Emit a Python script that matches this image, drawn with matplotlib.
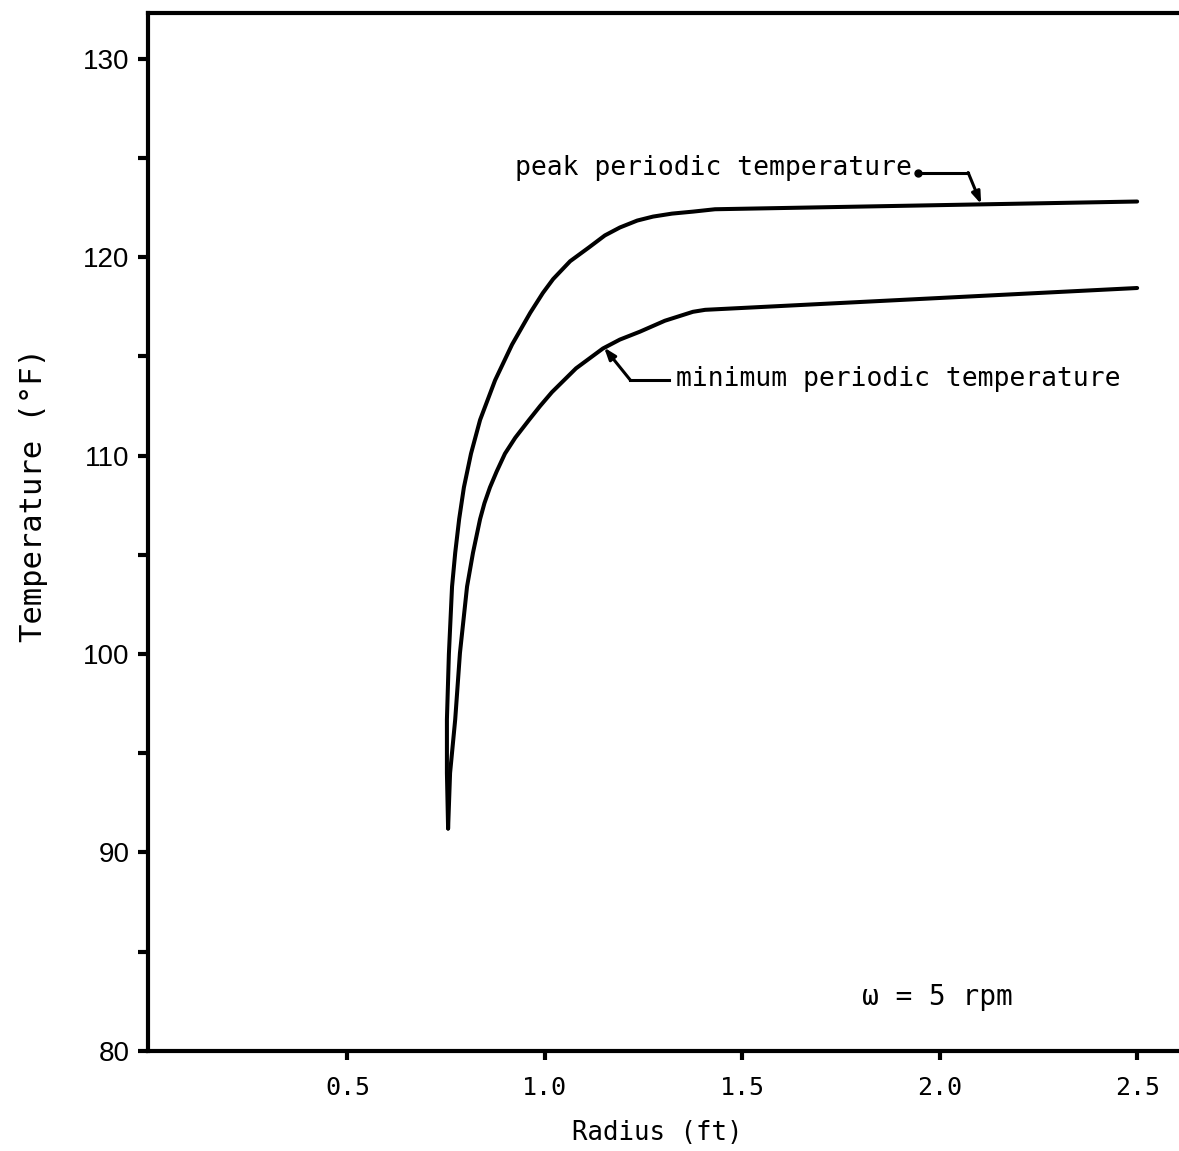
import matplotlib
matplotlib.use('Agg')
import matplotlib.pyplot as plt

# radius (ft) and temperature (F), omega = 5 rpm
radius_peak = [0.755, 0.752, 0.752, 0.757, 0.765, 0.773, 0.783, 0.795, 0.813, 0.836,
               0.874, 0.917, 0.963, 0.995, 1.021, 1.064, 1.112, 1.152, 1.190, 1.234,
               1.274, 1.322, 1.375, 1.431, 2.500]
temp_peak = [91.2, 94.0, 96.7, 100.0, 103.4, 105.1, 106.8, 108.4, 110.1, 111.8,
             113.8, 115.6, 117.2, 118.2, 118.9, 119.8, 120.5, 121.1, 121.5, 121.85,
             122.05, 122.2, 122.3, 122.42, 122.81]

radius_min = [0.755, 0.760, 0.773, 0.785, 0.803, 0.818, 0.836, 0.847, 0.861, 0.878,
              0.899, 0.925, 0.960, 0.988, 1.018, 1.079, 1.147, 1.190, 1.241, 1.304,
              1.375, 1.406, 2.500]
temp_min = [91.2, 94.0, 96.7, 100.05, 103.4, 105.1, 106.8, 107.6, 108.4, 109.2,
            110.1, 110.9, 111.8, 112.5, 113.2, 114.4, 115.4, 115.85, 116.25, 116.8,
            117.25, 117.35, 118.45]

x_ticks = [0.5, 1.0, 1.5, 2.0, 2.5]
y_ticks = [80, 90, 100, 110, 120, 130]
y_minor = [85, 95, 105, 115, 125]

MONO = 'DejaVu Sans Mono'

fig = plt.figure(figsize=(11.79, 11.51), dpi=100)
ax = fig.add_axes([148 / 1179, 0.0871, 1 - 148 / 1179, 0.9019])

ax.plot(radius_peak, temp_peak, color='black', lw=2.9,
        solid_capstyle='round', solid_joinstyle='round')
ax.plot(radius_min, temp_min, color='black', lw=2.9,
        solid_capstyle='round', solid_joinstyle='round')

ax.set_xlim(-0.005, 2.606)
ax.set_ylim(80, 132.33)

# frame: no right side, heavy lines
ax.spines['right'].set_visible(False)
for s in ['left', 'bottom', 'top']:
    ax.spines[s].set_linewidth(3)

ax.set_xticks(x_ticks)
ax.set_xticklabels([f'{v:.1f}' for v in x_ticks], fontfamily=MONO, fontsize=18)
ax.set_yticks(y_ticks)
ax.set_yticks(y_minor, minor=True)
ax.set_yticklabels([str(v) for v in y_ticks], fontfamily='Liberation Sans', fontsize=20)
ax.tick_params(axis='x', direction='out', length=6.5, width=3, pad=12)
ax.tick_params(axis='y', which='both', direction='out', length=7.5, width=3, pad=6)

ax.set_xlabel('Radius (ft)', fontfamily=MONO, fontsize=18.5, labelpad=14)
ax.xaxis.label.set_x(0.494)
ax.set_ylabel('Temperature (\u00b0F)', fontfamily=MONO, fontsize=22, labelpad=25)
ax.yaxis.label.set_y(0.535)

# curve labels with leader arrows
ax.text(0.925, 124.5, 'peak periodic temperature', fontfamily=MONO, fontsize=19,
        va='center', ha='left')
ax.plot([1.945, 2.072], [124.27, 124.27], color='black', lw=2.2)
ax.plot([1.945], [124.27], 'o', color='black', ms=5)
ax.annotate('', xy=(2.105, 122.68), xytext=(2.072, 124.27),
            arrowprops=dict(arrowstyle='-|>,head_length=0.7,head_width=0.25',
                            color='black', lw=2.2, shrinkA=0, shrinkB=0))

ax.text(1.332, 113.85, 'minimum periodic temperature', fontfamily=MONO, fontsize=19,
        va='center', ha='left')
ax.plot([1.216, 1.315], [113.82, 113.82], color='black', lw=2.2)
ax.annotate('', xy=(1.150, 115.45), xytext=(1.216, 113.82),
            arrowprops=dict(arrowstyle='-|>,head_length=0.7,head_width=0.25',
                            color='black', lw=2.2, shrinkA=0, shrinkB=0))

ax.text(1.803, 82.69, '\u03c9 = 5 rpm', fontfamily=MONO, fontsize=20, va='center', ha='left')

fig.savefig('out.png', dpi=100)
